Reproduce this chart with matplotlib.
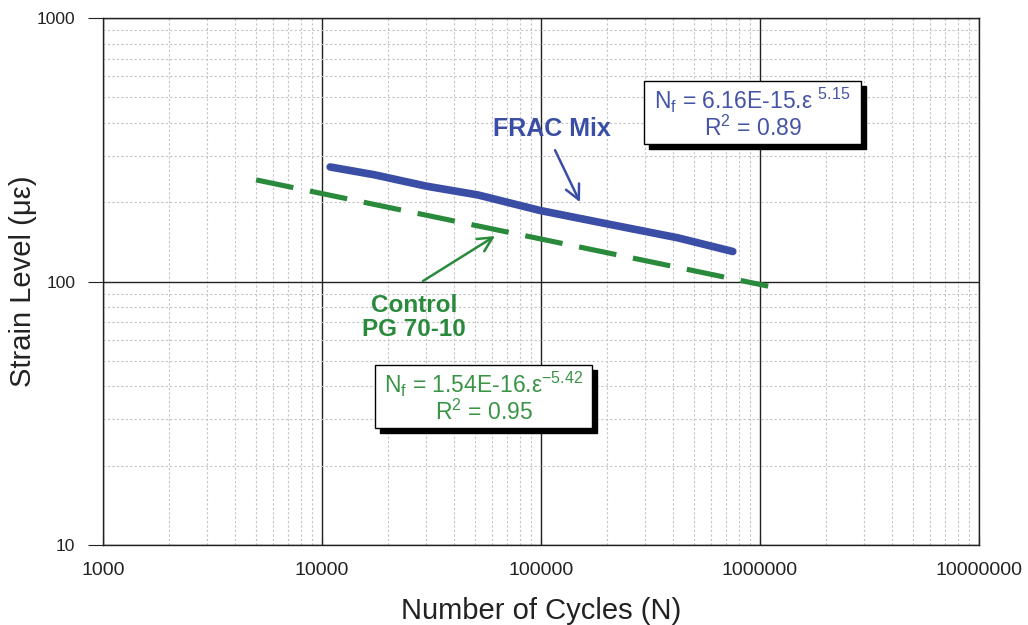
import matplotlib
matplotlib.use("Agg")
import matplotlib.pyplot as plt
from matplotlib.patches import Rectangle
from matplotlib.ticker import LogLocator, FixedLocator, FixedFormatter, NullFormatter

plt.rcParams['font.family'] = ['Liberation Sans', 'DejaVu Sans']
plt.rcParams['mathtext.fontset'] = 'custom'
plt.rcParams['mathtext.rm'] = 'Liberation Sans'
plt.rcParams['mathtext.it'] = 'Liberation Sans:italic'
plt.rcParams['mathtext.bf'] = 'Liberation Sans:bold'

# FRAC mix fatigue data (cycles to failure vs. strain)
frac_cycles = [10900, 17400, 23200, 30000, 51600, 99000, 204000, 421000, 751000]
frac_strain = [272, 254, 241, 230, 213, 186, 165, 146.5, 130]

# Control PG 70-10 fitted line
control_cycles = [5000, 1090000]
control_strain = [243, 96]

x_ticks = [1000, 10000, 100000, 1000000, 10000000]
x_tick_labels = ["1000", "10000", "100000", "1000000", "10000000"]
y_ticks = [10, 100, 1000]
y_tick_labels = ["10", "100", "1000"]

blue = "#3a4ea6"
green = "#2a8a3c"
text_blue = "#4454a6"
text_green = "#3a9445"

fig = plt.figure(figsize=(10.28, 6.25), dpi=100)
ax = fig.add_axes([103 / 1028, 1 - 545 / 625, (979 - 103) / 1028, (545 - 18) / 625])
ax.set_xscale("log")
ax.set_yscale("log")
ax.set_xlim(1000, 10000000)
ax.set_ylim(10, 1000)

ax.xaxis.set_major_locator(FixedLocator(x_ticks))
ax.xaxis.set_major_formatter(FixedFormatter(x_tick_labels))
ax.yaxis.set_major_locator(FixedLocator(y_ticks))
ax.yaxis.set_major_formatter(FixedFormatter(y_tick_labels))
ax.xaxis.set_minor_locator(LogLocator(base=10, subs=range(2, 10)))
ax.yaxis.set_minor_locator(LogLocator(base=10, subs=range(2, 10)))
ax.xaxis.set_minor_formatter(NullFormatter())
ax.yaxis.set_minor_formatter(NullFormatter())

ax.grid(which="minor", color="#c4c4c4", linestyle=(0, (2, 2)), linewidth=0.8)
ax.grid(which="major", color="#222222", linestyle="-", linewidth=1.0)
ax.set_axisbelow(True)

ax.tick_params(axis="both", which="minor", length=0)
ax.tick_params(axis="x", which="major", direction="in", length=6, pad=12,
               labelsize=14, labelcolor="#222222", color="#222222")
ax.tick_params(axis="y", which="major", direction="out", length=11, pad=9,
               labelsize=12.5, labelcolor="#222222", color="#222222")
for s in ax.spines.values():
    s.set_color("#222222")
    s.set_linewidth(1.0)

ax.set_xlabel("Number of Cycles (N)", fontsize=21, color="#222222", labelpad=13)
ax.set_ylabel("Strain Level (\u03bc\u03b5)", fontsize=21, color="#222222", labelpad=0)

ax.plot(frac_cycles, frac_strain, color=blue, linewidth=5.5, solid_capstyle="round", zorder=5)
ax.plot(control_cycles, control_strain, color=green, linewidth=3.7,
        linestyle=(0, (7.4, 3.3)), zorder=5)

# Series labels with pointer arrows
ax.text(60400, 379, "FRAC Mix", fontsize=18, fontweight="bold", color=blue,
        ha="left", va="center")
ax.annotate("", xy=(150700, 200), xytext=(115900, 315),
            arrowprops=dict(arrowstyle="->", color=blue, lw=1.8, mutation_scale=26,
                            shrinkA=0, shrinkB=0))
ax.text(26300, 81.4, "Control", fontsize=17.5, fontweight="bold", color=green,
        ha="center", va="center")
ax.text(26300, 66, "PG 70-10", fontsize=17.5, fontweight="bold", color=green,
        ha="center", va="center")
ax.annotate("", xy=(61660, 148.8), xytext=(28900, 100.4),
            arrowprops=dict(arrowstyle="->", color=green, lw=1.8, mutation_scale=26,
                            shrinkA=0, shrinkB=0))


def shadow_box(x0, y0, x1, y1, lines, color):
    # pixel coordinates measured from the top-left of the figure
    W, H = 1028, 625
    off = 5
    fig.patches.append(Rectangle(((x0 + off) / W, 1 - (y1 + off) / H), (x1 - x0) / W,
                                 (y1 - y0) / H, transform=fig.transFigure,
                                 facecolor="black", edgecolor="black", zorder=10))
    fig.patches.append(Rectangle((x0 / W, 1 - y1 / H), (x1 - x0) / W, (y1 - y0) / H,
                                 transform=fig.transFigure, facecolor="white",
                                 edgecolor="black", linewidth=1.0, zorder=11))
    cx = (x0 + x1) / 2 / W
    fig.text(cx, 1 - (y0 + 19) / H, lines[0], ha="center", va="center",
             fontsize=16.5, color=color, zorder=12)
    fig.text(cx, 1 - (y0 + 47) / H, lines[1], ha="center", va="center",
             fontsize=16.5, color=color, zorder=12)


shadow_box(644, 81, 861, 144,
           ["N$_\\mathrm{f}$ = 6.16E-15.\u03b5 $^{\\mathrm{5.15}}$", "R$^\\mathrm{2}$ = 0.89"],
           text_blue)
shadow_box(375, 365, 592, 428,
           ["N$_\\mathrm{f}$ = 1.54E-16.\u03b5$^{\\mathrm{-5.42}}$", "R$^\\mathrm{2}$ = 0.95"],
           text_green)

fig.savefig("out.png", dpi=100)
